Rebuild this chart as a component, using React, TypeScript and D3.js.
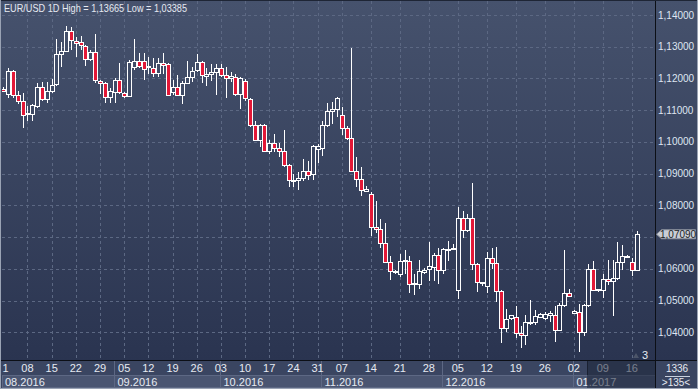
import { format, scaleLinear } from "d3";

const W = 698;
const H = 389;
const PLOT = { left: 2, right: 655, top: 1, bottom: 360 };

const title = "EUR/USD 1D High = 1,13665 Low = 1,03385";

// daily candles, 01.08.2016 .. 17.01.2017 (Sunday bars appear from mid-November)
const opens = [
  1.1168, 1.1151, 1.1224, 1.1148, 1.113, 1.1087, 1.1088, 1.1114, 1.1174, 1.1135,
  1.1159, 1.1182, 1.1277, 1.1287, 1.135, 1.1317, 1.1316, 1.1303, 1.1261, 1.1282,
  1.1192, 1.1186, 1.1142, 1.1156, 1.1194, 1.1155, 1.1145, 1.1237, 1.1255, 1.1255,
  1.1236, 1.1232, 1.1216, 1.1248, 1.1245, 1.1156, 1.1173, 1.1147, 1.1187, 1.1205,
  1.1226, 1.1252, 1.1209, 1.1214, 1.1219, 1.1234, 1.1211, 1.1203, 1.1205, 1.115,
  1.1192, 1.1135, 1.1054, 1.1006, 1.1054, 1.097, 1.0996, 1.0981, 1.097, 1.0928,
  1.088, 1.088, 1.0886, 1.0909, 1.0899, 1.0978, 1.0981, 1.1054, 1.1097, 1.1103,
  1.1086, 1.1044, 1.1012, 1.0909, 1.0883, 1.0845, 1.0836, 1.0733, 1.0726, 1.0682,
  1.0623, 1.0593, 1.0585, 1.0625, 1.0626, 1.0553, 1.0553, 1.0589, 1.06, 1.0606,
  1.0645, 1.0595, 1.0658, 1.0661, 1.0534, 1.0761, 1.0721, 1.0761, 1.0616, 1.0557,
  1.0546, 1.0635, 1.0618, 1.053, 1.0412, 1.0444, 1.0448, 1.0399, 1.0391, 1.0431,
  1.0433, 1.0448, 1.0446, 1.0456, 1.0456, 1.0408, 1.0485, 1.0525, 1.0462, 1.0464,
  1.0401, 1.0485, 1.06, 1.0532, 1.0532, 1.0569, 1.0563, 1.0572, 1.0623, 1.0636,
  1.0623, 1.0597,
];
const highs = [
  1.1172, 1.1232, 1.1227, 1.1159, 1.1155, 1.1114, 1.1119, 1.1187, 1.1189, 1.1189,
  1.1198, 1.1323, 1.1316, 1.13665, 1.1363, 1.1331, 1.1334, 1.1306, 1.1289, 1.1339,
  1.1194, 1.1189, 1.1171, 1.1203, 1.125, 1.1156, 1.1257, 1.1323, 1.1281, 1.1281,
  1.1268, 1.1266, 1.1264, 1.1281, 1.125, 1.1194, 1.1211, 1.1192, 1.1255, 1.1236,
  1.1276, 1.1255, 1.1234, 1.1247, 1.1247, 1.1245, 1.1236, 1.1219, 1.1213, 1.1205,
  1.1198, 1.1138, 1.1067, 1.1057, 1.1057, 1.1007, 1.1025, 1.0996, 1.1037, 1.093,
  1.0899, 1.0904, 1.0946, 1.0939, 1.0991, 1.0992, 1.1067, 1.1124, 1.1127, 1.1142,
  1.1111, 1.1051, 1.1297, 1.0953, 1.0922, 1.0862, 1.0841, 1.0815, 1.0758, 1.0744,
  1.0642, 1.0597, 1.0647, 1.0658, 1.0642, 1.0585, 1.0629, 1.0603, 1.0686, 1.065,
  1.0666, 1.0666, 1.0689, 1.0677, 1.0796, 1.0782, 1.0773, 1.0871, 1.0618, 1.056,
  1.0652, 1.0666, 1.0668, 1.0534, 1.0475, 1.0456, 1.0482, 1.0419, 1.0454, 1.0501,
  1.0469, 1.046, 1.0464, 1.0467, 1.0482, 1.0492, 1.0658, 1.0535, 1.0469, 1.049,
  1.049, 1.0616, 1.0624, 1.0538, 1.0584, 1.0627, 1.0627, 1.0686, 1.0674, 1.0644,
  1.0635, 1.0718,
];
const lows = [
  1.1158, 1.1138, 1.1138, 1.1119, 1.1044, 1.1066, 1.1067, 1.1107, 1.113, 1.1124,
  1.1153, 1.1177, 1.1237, 1.1282, 1.1289, 1.1268, 1.1289, 1.124, 1.1255, 1.1187,
  1.1151, 1.1124, 1.1122, 1.1124, 1.115, 1.1138, 1.114, 1.1226, 1.1232, 1.1194,
  1.1213, 1.1205, 1.1205, 1.1213, 1.1145, 1.1148, 1.1145, 1.1121, 1.1182, 1.119,
  1.1219, 1.1187, 1.1177, 1.1192, 1.1148, 1.1205, 1.1138, 1.119, 1.1145, 1.1103,
  1.113, 1.1048, 1.1002, 1.0983, 1.0967, 1.0962, 1.0967, 1.0951, 1.0922, 1.0859,
  1.0857, 1.0849, 1.0878, 1.088, 1.088, 1.0935, 1.0957, 1.1048, 1.1056, 1.1077,
  1.1023, 1.1006, 1.0904, 1.0859, 1.0828, 1.0843, 1.0705, 1.0712, 1.0666, 1.0618,
  1.0566, 1.0585, 1.0574, 1.0585, 1.0524, 1.0517, 1.0537, 1.0585, 1.0561, 1.0561,
  1.0553, 1.0585, 1.0624, 1.0661, 1.0506, 1.0698, 1.0716, 1.0597, 1.0527, 1.0547,
  1.0524, 1.06, 1.0495, 1.0367, 1.0401, 1.044, 1.0383, 1.0352, 1.0359, 1.0422,
  1.0422, 1.0446, 1.044, 1.0433, 1.037, 1.0404, 1.048, 1.0511, 1.0459, 1.03385,
  1.0388, 1.048, 1.053, 1.0527, 1.0509, 1.0548, 1.0452, 1.0566, 1.0597, 1.0634,
  1.0576, 1.0593,
];
const closes = [
  1.1161, 1.1224, 1.1148, 1.113, 1.1085, 1.1092, 1.1117, 1.1174, 1.1135, 1.1161,
  1.118, 1.1276, 1.1287, 1.135, 1.132, 1.1311, 1.1304, 1.1261, 1.1282, 1.1194,
  1.1186, 1.1142, 1.1159, 1.1194, 1.1156, 1.1145, 1.1252, 1.1255, 1.124, 1.1229,
  1.124, 1.1216, 1.1248, 1.1243, 1.1148, 1.1173, 1.1147, 1.1185, 1.1205, 1.1224,
  1.1252, 1.121, 1.1215, 1.1221, 1.1234, 1.121, 1.1203, 1.1207, 1.115, 1.1201,
  1.1138, 1.1054, 1.1006, 1.1054, 1.097, 1.0996, 1.0981, 1.097, 1.0928, 1.088,
  1.0878, 1.0886, 1.0909, 1.0896, 1.0988, 1.0987, 1.1054, 1.1096, 1.1103, 1.1138,
  1.1044, 1.1012, 1.0909, 1.0883, 1.0847, 1.0852, 1.0733, 1.0726, 1.0682, 1.0621,
  1.0592, 1.059, 1.0626, 1.0629, 1.0553, 1.0555, 1.0592, 1.0595, 1.0608, 1.0645,
  1.0595, 1.0661, 1.0663, 1.0666, 1.0761, 1.0721, 1.0761, 1.0616, 1.0558, 1.0559,
  1.0635, 1.0618, 1.053, 1.0412, 1.0443, 1.0454, 1.0399, 1.0392, 1.0431, 1.0434,
  1.045, 1.0459, 1.0459, 1.046, 1.0408, 1.0485, 1.0525, 1.0514, 1.0466, 1.0401,
  1.0485, 1.06, 1.0534, 1.0536, 1.0569, 1.0563, 1.0572, 1.0623, 1.0639, 1.0641,
  1.0597, 1.0709,
];

const dayTickIdx = [0, 5, 10, 15, 20, 25, 30, 35, 40, 45, 50, 55, 60, 65, 70, 76, 82, 88, 94, 100, 106, 112, 118, 124, 130];
const dayTickLabels = ["1", "08", "15", "22", "29", "05", "12", "19", "26", "03", "10", "17", "24", "31", "07", "14", "21", "28", "05", "12", "19", "26", "02", "09", "16"];
const monthStartIdx = [0, 23, 45, 66, 91, 118];
const monthLabels = ["08.2016", "09.2016", "10.2016", "11.2016", "12.2016", "01.2017"];
const priceTicks = [1.04, 1.05, 1.06, 1.07, 1.08, 1.09, 1.1, 1.11, 1.12, 1.13, 1.14];
const lastPrice = 1.0709;

const FONT = "'Liberation Sans', Arial, sans-serif";
const RED = "#e31837";
const OVERLAY_X = 587;

const fmt = (v: number) => format(".5f")(v).replace(".", ",");

export default function App() {
  const x = scaleLinear().domain([0, opens.length - 1]).range([3.3, 636.7]);
  const y = scaleLinear().domain([1.04, 1.14]).range([332.3, 15]);
  const px = (v: number) => Math.round(v) + 0.5;

  const monthX = monthStartIdx.map((i) => (i === 0 ? PLOT.left : Math.round(x(i) - 1) + 0.5));

  return (
    <svg
      width={W}
      height={H}
      viewBox={`0 0 ${W} ${H}`}
      style={{ position: "absolute", left: 0, top: 0, display: "block" }}
      fontFamily={FONT}
    >
      <defs>
        <linearGradient id="bg" gradientUnits="userSpaceOnUse" x1="0" y1="0" x2="0" y2="361">
          <stop offset="0" stopColor="#46526d" />
          <stop offset="1" stopColor="#2a3450" />
        </linearGradient>
        <clipPath id="plotClip">
          <rect x={PLOT.left} y={PLOT.top} width={PLOT.right - PLOT.left} height={PLOT.bottom - PLOT.top} />
        </clipPath>
      </defs>

      <rect x={0} y={0} width={W} height={361} fill="url(#bg)" />

      {/* grid */}
      <g stroke="#5c6883" strokeWidth={1} strokeDasharray="3 3" shapeRendering="crispEdges">
        {priceTicks.map((t) => (
          <line key={`h${t}`} x1={PLOT.left} x2={PLOT.right} y1={px(y(t))} y2={px(y(t))} />
        ))}
        {dayTickIdx.slice(1).map((i) => (
          <line key={`v${i}`} x1={px(x(i))} x2={px(x(i))} y1={PLOT.top} y2={PLOT.bottom} />
        ))}
      </g>

      {/* candles */}
      <g clipPath="url(#plotClip)" shapeRendering="crispEdges">
        {opens.map((o, i) => {
          const c = closes[i];
          const cx = Math.round(x(i));
          const top = Math.round(y(Math.max(o, c)));
          const bot = Math.round(y(Math.min(o, c)));
          const down = c < o;
          return (
            <g key={i}>
              <line x1={cx + 0.5} x2={cx + 0.5} y1={Math.round(y(highs[i]))} y2={Math.round(y(lows[i]))} stroke="#ffffff" />
              <rect
                x={cx - 1.5}
                y={top + 0.5}
                width={4}
                height={Math.max(1, bot - top)}
                fill={down ? RED : "url(#bg)"}
                stroke="#ffffff"
                strokeWidth={1}
              />
            </g>
          );
        })}
      </g>

      <text x={4} y={12} fontSize={11} fill="#e6eaf2" textLength={183} lengthAdjust="spacingAndGlyphs">
        {title}
      </text>

      {/* marker bottom right of plot */}
      <path d="M633,358 L636,353 L639,358 Z" fill="#4c5569" />
      <text x={642} y={359} fontSize={11} fill="#e6eaf2">
        3
      </text>

      {/* right price axis */}
      <line x1={655.5} x2={655.5} y1={0} y2={H} stroke="#0c0f16" />
      {priceTicks
        .filter((t) => Math.abs(t - 1.07) > 1e-9)
        .map((t) => (
          <text key={`p${t}`} x={658} y={y(t)} dy="0.35em" fontSize={10} fill="#dfe6f2">
            {fmt(t)}
          </text>
        ))}
      <g>
        <path
          d={`M656.5,${y(lastPrice)} L661.5,${y(lastPrice) - 4.5} L695.5,${y(lastPrice) - 4.5} L695.5,${y(lastPrice) + 4.5} L661.5,${y(lastPrice) + 4.5} Z`}
          fill="#c9cdd5"
          stroke="#8b919d"
        />
        <text x={660} y={y(lastPrice)} dy="0.35em" fontSize={10} fill="#1b1f27">
          {fmt(lastPrice)}
        </text>
      </g>

      {/* time axis */}
      <rect x={0} y={361} width={656} height={27} fill="#3a4561" />
      {monthStartIdx.map((i, k) => {
        const x0 = monthX[k];
        const x1 = k + 1 < monthX.length ? monthX[k + 1] : 655;
        return (
          <g key={`m${i}`}>
            <rect x={x0} y={375.5} width={x1 - x0} height={12} fill="#4a5571" stroke="#5d6884" shapeRendering="crispEdges" />
            {k > 0 && <line x1={x0} x2={x0} y1={361} y2={375} stroke="#5d6884" shapeRendering="crispEdges" />}
            <text x={x0 + 3} y={386} fontSize={11} fill="#e6eaf2">
              {monthLabels[k]}
            </text>
          </g>
        );
      })}
      {dayTickIdx.map((i, k) => (
        <text key={`d${i}`} x={Math.max(5.5, x(i))} y={372} fontSize={11} fill="#e6eaf2" textAnchor="middle">
          {dayTickLabels[k]}
        </text>
      ))}
      <rect x={OVERLAY_X} y={361} width={655 - OVERLAY_X} height={27} fill="#1c2438" opacity={0.55} />
      <line x1={OVERLAY_X + 0.5} x2={OVERLAY_X + 0.5} y1={361} y2={375} stroke="#1a2132" />
      <line x1={0} x2={W} y1={360.5} y2={360.5} stroke="#0c0f16" />

      {/* bottom right corner */}
      <rect x={656} y={361} width={41} height={27} fill="#3a4561" />
      <text x={677} y={372} fontSize={10} fill="#e6eaf2" textAnchor="middle">
        1336
      </text>
      <line x1={665} x2={690} y1={376.5} y2={376.5} stroke="#c8d0de" />
      <text x={676} y={386} fontSize={10} fill="#e6eaf2" textAnchor="middle">
        {">135<"}
      </text>
      <line x1={655.5} x2={655.5} y1={361} y2={H} stroke="#0c0f16" />

      {/* frame */}
      <line x1={0} x2={W} y1={0.5} y2={0.5} stroke="#1e2535" />
      <line x1={0.5} x2={0.5} y1={0} y2={H} stroke="#9aa3b4" />
      <line x1={W - 0.5} x2={W - 0.5} y1={0} y2={H} stroke="#9aa3b4" />
      <line x1={0} x2={W} y1={H - 0.5} y2={H - 0.5} stroke="#9aa3b4" />
    </svg>
  );
}
